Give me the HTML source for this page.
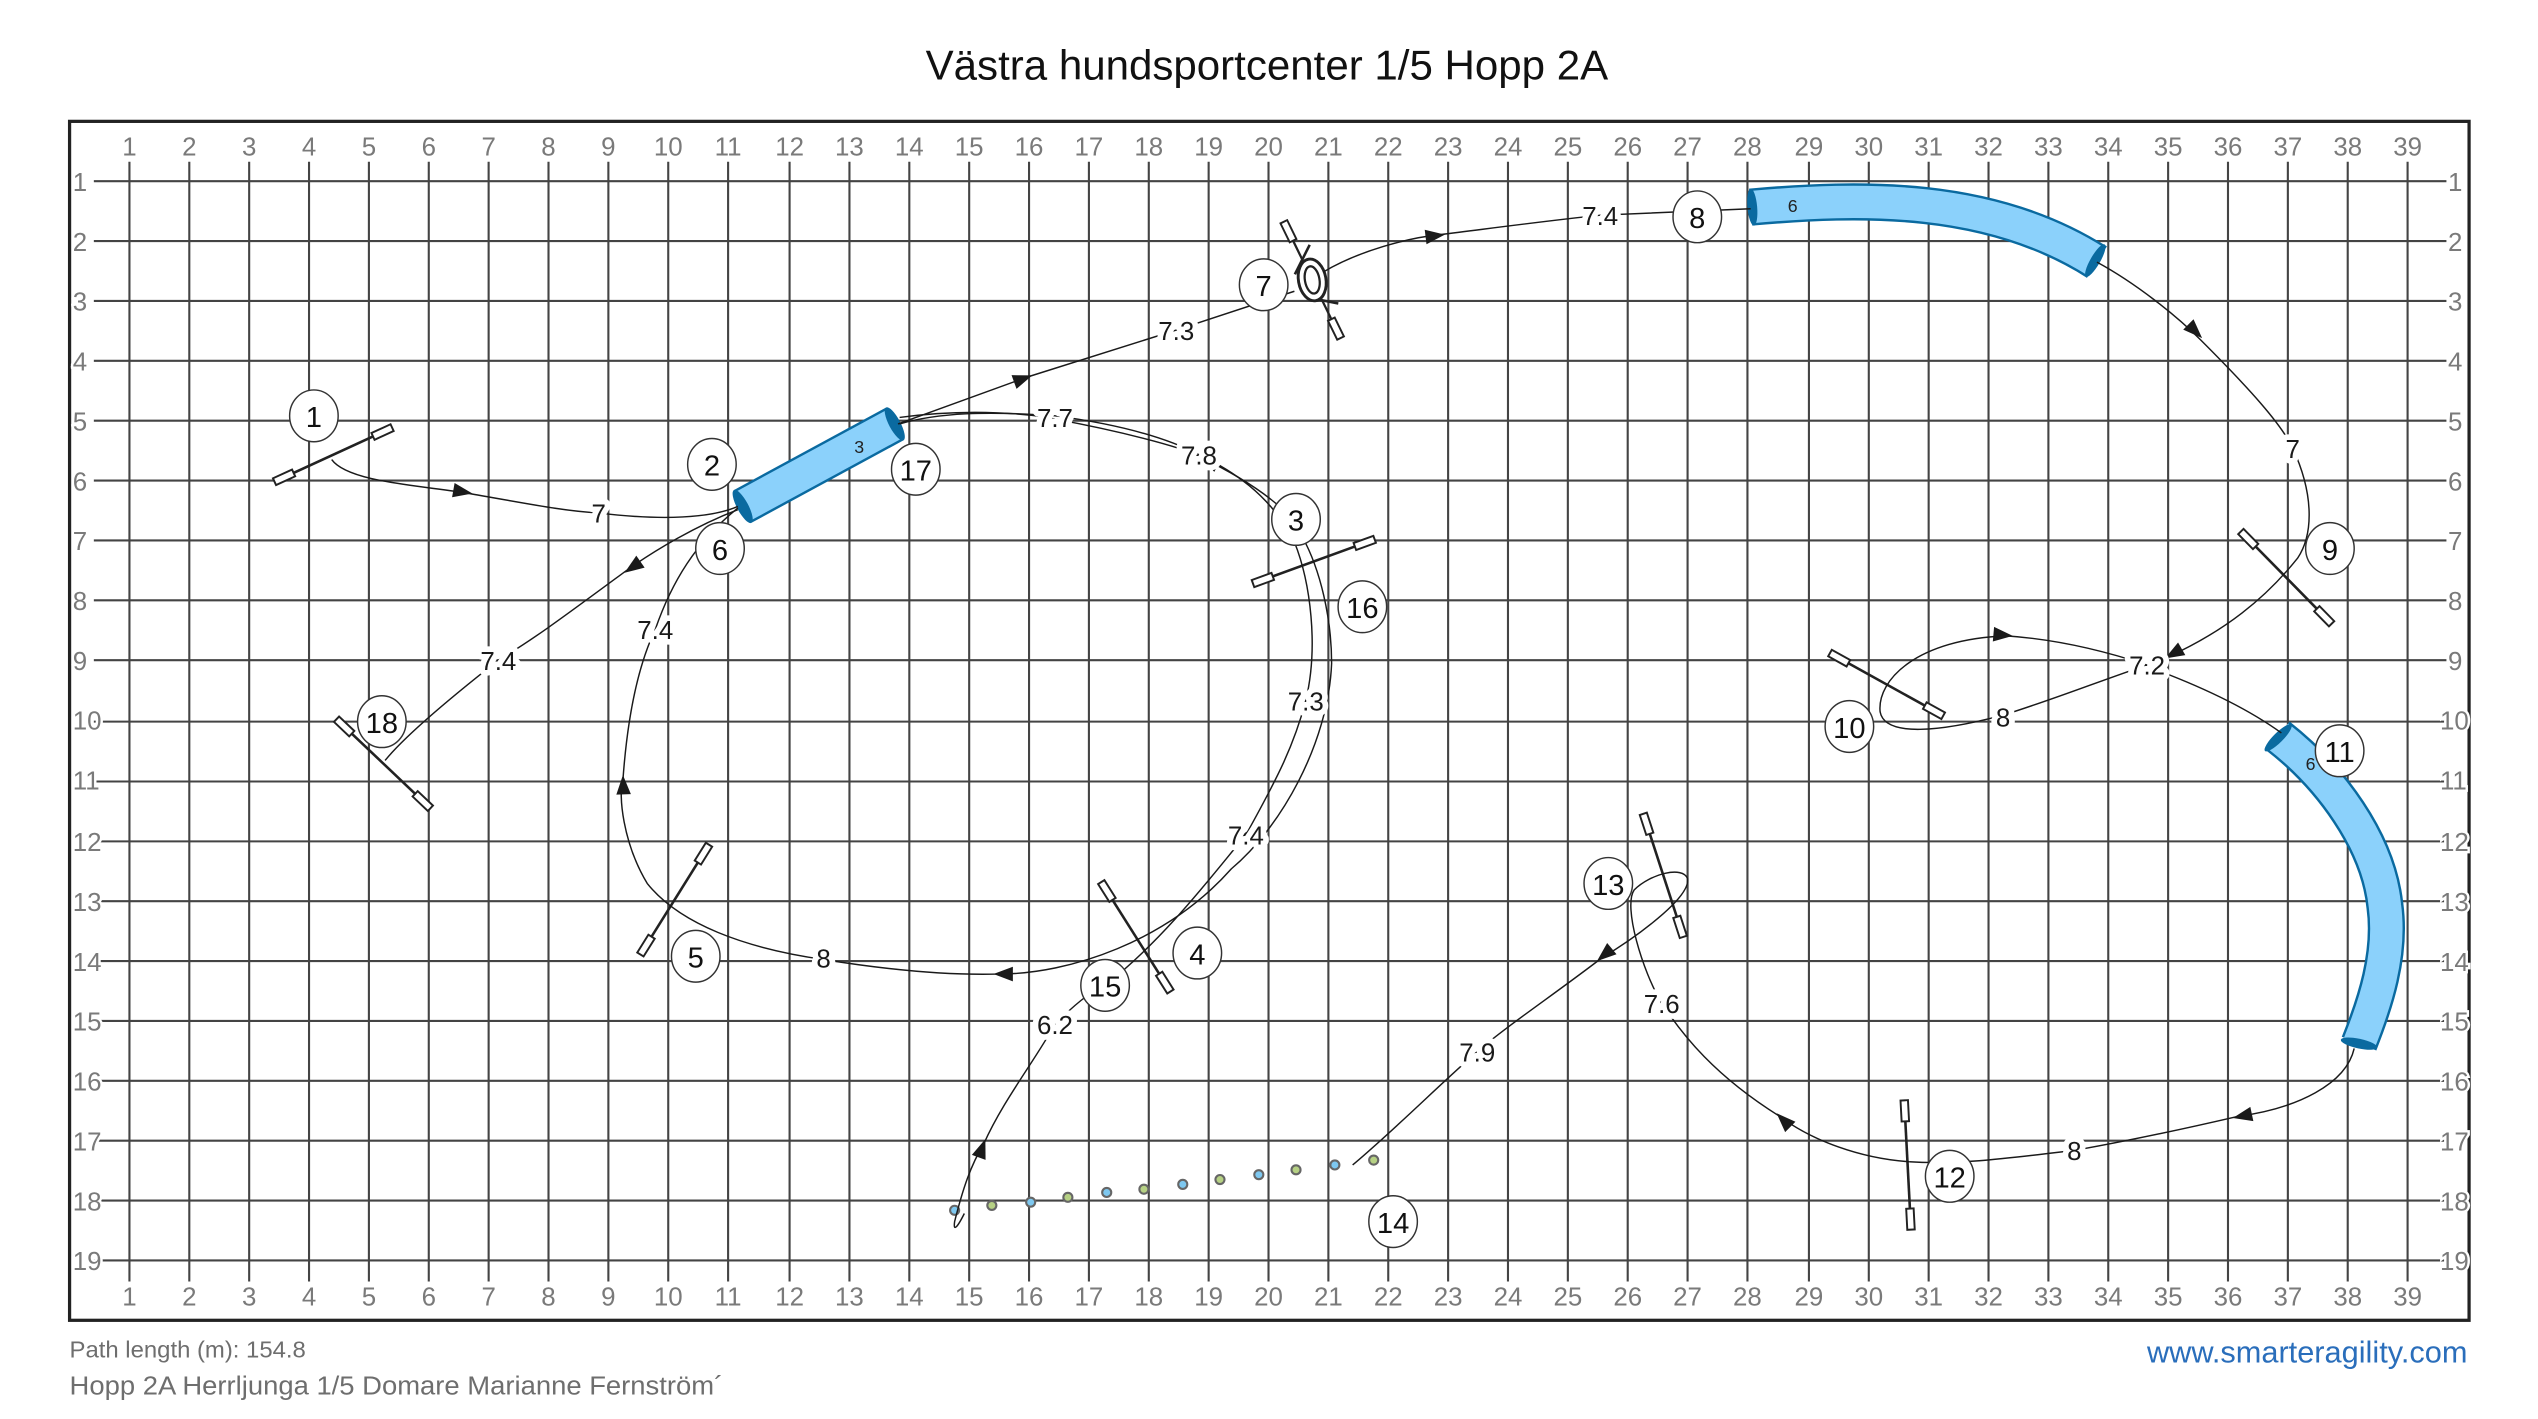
<!DOCTYPE html>
<html><head><meta charset="utf-8"><style>
html,body{margin:0;padding:0;background:#fff;}
svg{display:block;}
text{font-family:"Liberation Sans",sans-serif;}
</style></head><body>
<svg width="2538" height="1419" viewBox="0 0 1568.6 877" xmlns="http://www.w3.org/2000/svg">
<defs>
<g id="jmp"><line x1="-40" y1="0" x2="40" y2="0" stroke="#222" stroke-width="1.6"/>
<rect x="-40" y="-2.3" width="13" height="4.6" fill="#fff" stroke="#222" stroke-width="1.2"/>
<rect x="27" y="-2.3" width="13" height="4.6" fill="#fff" stroke="#222" stroke-width="1.2"/></g>
<polygon id="ar" points="0,0 -12,-4.5 -12,4.5" fill="#1a1a1a"/>
</defs>
<rect width="1568.6" height="877" fill="#fff"/>
<text x="783" y="49" font-size="26" text-anchor="middle" fill="#111">Västra hundsportcenter 1/5 Hopp 2A</text>
<!-- grid -->
<g stroke="#444" stroke-width="1.3">
<path d="M80,100V792M117,100V792M154,100V792M191,100V792M228,100V792M265,100V792M302,100V792M339,100V792M376,100V792M413,100V792M450,100V792M488,100V792M525,100V792M562,100V792M599,100V792M636,100V792M673,100V792M710,100V792M747,100V792M784,100V792M821,100V792M858,100V792M895,100V792M932,100V792M969,100V792M1006,100V792M1043,100V792M1080,100V792M1118,100V792M1155,100V792M1192,100V792M1229,100V792M1266,100V792M1303,100V792M1340,100V792M1377,100V792M1414,100V792M1451,100V792M1488,100V792"/>
<path d="M58,112H1512M58,149H1512M58,186H1512M58,223H1512M58,260H1512M58,297H1512M58,334H1512M58,371H1512M58,408H1512M58,446H1512M58,483H1512M58,520H1512M58,557H1512M58,594H1512M58,631H1512M58,668H1512M58,705H1512M58,742H1512M58,779H1512"/>
</g>
<rect x="43" y="75" width="1483" height="741" fill="none" stroke="#222" stroke-width="2"/>
<g font-size="16" fill="#7a7a7a" text-anchor="middle">
<text x="80" y="96">1</text><text x="117" y="96">2</text><text x="154" y="96">3</text><text x="191" y="96">4</text><text x="228" y="96">5</text><text x="265" y="96">6</text><text x="302" y="96">7</text><text x="339" y="96">8</text><text x="376" y="96">9</text><text x="413" y="96">10</text><text x="450" y="96">11</text><text x="488" y="96">12</text><text x="525" y="96">13</text><text x="562" y="96">14</text><text x="599" y="96">15</text><text x="636" y="96">16</text><text x="673" y="96">17</text><text x="710" y="96">18</text><text x="747" y="96">19</text><text x="784" y="96">20</text><text x="821" y="96">21</text><text x="858" y="96">22</text><text x="895" y="96">23</text><text x="932" y="96">24</text><text x="969" y="96">25</text><text x="1006" y="96">26</text><text x="1043" y="96">27</text><text x="1080" y="96">28</text><text x="1118" y="96">29</text><text x="1155" y="96">30</text><text x="1192" y="96">31</text><text x="1229" y="96">32</text><text x="1266" y="96">33</text><text x="1303" y="96">34</text><text x="1340" y="96">35</text><text x="1377" y="96">36</text><text x="1414" y="96">37</text><text x="1451" y="96">38</text><text x="1488" y="96">39</text>
<text x="80" y="807">1</text><text x="117" y="807">2</text><text x="154" y="807">3</text><text x="191" y="807">4</text><text x="228" y="807">5</text><text x="265" y="807">6</text><text x="302" y="807">7</text><text x="339" y="807">8</text><text x="376" y="807">9</text><text x="413" y="807">10</text><text x="450" y="807">11</text><text x="488" y="807">12</text><text x="525" y="807">13</text><text x="562" y="807">14</text><text x="599" y="807">15</text><text x="636" y="807">16</text><text x="673" y="807">17</text><text x="710" y="807">18</text><text x="747" y="807">19</text><text x="784" y="807">20</text><text x="821" y="807">21</text><text x="858" y="807">22</text><text x="895" y="807">23</text><text x="932" y="807">24</text><text x="969" y="807">25</text><text x="1006" y="807">26</text><text x="1043" y="807">27</text><text x="1080" y="807">28</text><text x="1118" y="807">29</text><text x="1155" y="807">30</text><text x="1192" y="807">31</text><text x="1229" y="807">32</text><text x="1266" y="807">33</text><text x="1303" y="807">34</text><text x="1340" y="807">35</text><text x="1377" y="807">36</text><text x="1414" y="807">37</text><text x="1451" y="807">38</text><text x="1488" y="807">39</text>
</g>
<g font-size="16" fill="#7a7a7a" text-anchor="start" stroke="#fff" stroke-width="3" paint-order="stroke">
<text x="45" y="118">1</text><text x="45" y="155">2</text><text x="45" y="192">3</text><text x="45" y="229">4</text><text x="45" y="266">5</text><text x="45" y="303">6</text><text x="45" y="340">7</text><text x="45" y="377">8</text><text x="45" y="414">9</text><text x="45" y="451">10</text><text x="45" y="488">11</text><text x="45" y="526">12</text><text x="45" y="563">13</text><text x="45" y="600">14</text><text x="45" y="637">15</text><text x="45" y="674">16</text><text x="45" y="711">17</text><text x="45" y="748">18</text><text x="45" y="785">19</text>
<text x="1513" y="118">1</text><text x="1513" y="155">2</text><text x="1513" y="192">3</text><text x="1513" y="229">4</text><text x="1513" y="266">5</text><text x="1513" y="303">6</text><text x="1513" y="340">7</text><text x="1513" y="377">8</text><text x="1513" y="414">9</text><text x="1508" y="451">10</text><text x="1508" y="488">11</text><text x="1508" y="526">12</text><text x="1508" y="563">13</text><text x="1508" y="600">14</text><text x="1508" y="637">15</text><text x="1508" y="674">16</text><text x="1508" y="711">17</text><text x="1508" y="748">18</text><text x="1508" y="785">19</text>
</g>

<!-- tunnels -->
<g fill="none" stroke-linecap="butt">
<path d="M459,313 L553,262" stroke="#0a6aa0" stroke-width="23"/>
<path d="M459,313 L553,262" stroke="#8bd1fb" stroke-width="20"/>
<path d="M1082,128 C1150,122 1230,120 1296,162" stroke="#0a6aa0" stroke-width="23"/>
<path d="M1082,128 C1150,122 1230,120 1296,162" stroke="#8bd1fb" stroke-width="20"/>
<path d="M1408,455 C1440,480 1470,520 1474,560 C1478,590 1468,620 1458,645" stroke="#0a6aa0" stroke-width="23"/>
<path d="M1408,455 C1440,480 1470,520 1474,560 C1478,590 1468,620 1458,645" stroke="#8bd1fb" stroke-width="20"/>
</g>
<g fill="#0a6aa0">
<ellipse cx="459" cy="313" rx="3.5" ry="11.5" transform="rotate(-28 459 313)"/>
<ellipse cx="553" cy="262" rx="3.5" ry="11.5" transform="rotate(-28 553 262)"/>
<ellipse cx="1083" cy="128" rx="3" ry="11.5" transform="rotate(-5 1083 128)"/>
<ellipse cx="1295" cy="161" rx="3" ry="11.5" transform="rotate(30 1295 161)"/>
<ellipse cx="1408" cy="456" rx="3" ry="11.5" transform="rotate(45 1408 456)"/>
<ellipse cx="1458" cy="645" rx="3" ry="11.5" transform="rotate(-78 1458 645)"/>
</g>
<g font-size="11" fill="#222" text-anchor="middle">
<text x="531" y="280">3</text><text x="1108" y="131">6</text><text x="1428" y="476">6</text>
</g>

<!-- jumps -->
<use href="#jmp" transform="translate(206,281) rotate(-24.7)"/>
<use href="#jmp" transform="translate(237,472) rotate(43.5)"/>
<use href="#jmp" transform="translate(417,556) rotate(-58)"/>
<use href="#jmp" transform="translate(702,579) rotate(57.7)"/>
<use href="#jmp" transform="translate(812,347) rotate(-20)"/>
<use href="#jmp" transform="translate(1413,357) rotate(45.5)"/>
<use href="#jmp" transform="translate(1166,423) rotate(29)"/>
<use href="#jmp" transform="translate(1179,720) rotate(87)"/>
<use href="#jmp" transform="translate(1028,541) rotate(72)"/>
<!-- tire -->
<g transform="translate(811,173) rotate(64)" stroke="#222" fill="none">
<rect x="-40" y="-2.3" width="13" height="4.6" fill="#fff" stroke-width="1.2"/>
<rect x="27" y="-2.3" width="13" height="4.6" fill="#fff" stroke-width="1.2"/>
<line x1="-27" y1="0" x2="-14" y2="0" stroke-width="1.4"/>
<line x1="14" y1="0" x2="27" y2="0" stroke-width="1.4"/>
<line x1="-16" y1="-10" x2="-12" y2="10" stroke-width="1.6" transform="rotate(-26 -14 0)"/>
<line x1="16" y1="-10" x2="12" y2="10" stroke-width="1.6" transform="rotate(26 14 0)"/>
</g>
<ellipse cx="811" cy="173" rx="8.5" ry="13" transform="rotate(-10 811 173)" fill="#fff" stroke="#222" stroke-width="1.8"/>
<ellipse cx="811" cy="173" rx="4.5" ry="8.5" transform="rotate(-10 811 173)" fill="none" stroke="#222" stroke-width="1.4"/>

<!-- weave -->
<g stroke="#666" stroke-width="1.3">
<circle cx="590" cy="748" r="2.8" fill="#7ec8f0"/><circle cx="613" cy="745" r="2.8" fill="#b6d184"/><circle cx="637" cy="743" r="2.8" fill="#7ec8f0"/><circle cx="660" cy="740" r="2.8" fill="#b6d184"/><circle cx="684" cy="737" r="2.8" fill="#7ec8f0"/><circle cx="707" cy="735" r="2.8" fill="#b6d184"/><circle cx="731" cy="732" r="2.8" fill="#7ec8f0"/><circle cx="754" cy="729" r="2.8" fill="#b6d184"/><circle cx="778" cy="726" r="2.8" fill="#7ec8f0"/><circle cx="801" cy="723" r="2.8" fill="#b6d184"/><circle cx="825" cy="720" r="2.8" fill="#7ec8f0"/><circle cx="849" cy="717" r="2.8" fill="#b6d184"/>
</g>

<!-- path -->
<g fill="none" stroke="#1a1a1a" stroke-width="0.9">
<path d="M205,284 C215,298 260,300 290,305 C330,312 350,316 370,317 C410,322 440,320 456,313"/>
<path d="M556,258 C600,252 640,256 652,259 C690,266 730,276 741,282 C770,296 795,312 805,330"/>
<path d="M805,332 C816,352 823,382 823,410 C821,460 791,512 761,537 C721,582 661,602 617,602 C580,603 540,598 509,593"/>
<path d="M509,593 C460,586 420,571 400,546 C385,521 382,491 385,482 C388,440 395,410 405,389 C415,360 430,335 456,314"/>
<path d="M555,262 L635,233 L727,204 L800,180"/>
<path d="M818,168 C840,155 870,147 890,145 C930,140 960,136 989,133 L1082,129"/>
<path d="M1296,162 C1320,175 1345,195 1360,210 C1390,240 1410,262 1417,277 C1430,305 1430,330 1420,345 C1400,370 1375,390 1340,406"/>
<path d="M1327,411 C1300,420 1270,432 1238,442 C1200,452 1165,456 1162,440 C1160,420 1185,395 1240,393 C1270,395 1300,402 1327,411"/>
<path d="M1330,413 C1365,426 1392,440 1410,453"/>
<path d="M1455,648 C1450,670 1420,685 1383,690 C1340,700 1310,706 1282,711 C1240,716 1210,720 1180,718"/>
<path d="M1180,718 C1150,716 1120,705 1100,690 C1060,665 1040,640 1027,620 C1015,600 1003,560 1010,550 C1020,540 1040,535 1043,543 C1045,555 1010,580 990,592"/>
<path d="M990,592 C960,615 930,635 913,650 C890,670 860,700 836,720"/>
<path d="M596,750 C592,758 589,762 590,755 C595,735 600,720 608,707 C620,680 640,655 652,633 C665,620 675,612 683,609"/>
<path d="M683,609 C720,580 750,540 770,516 C790,480 800,460 807,433 C815,400 810,360 800,335 C785,305 760,290 741,281 C720,270 690,262 652,257 C610,254 580,255 556,262"/>
<path d="M456,315 C430,325 405,340 388,352 C350,380 330,395 308,408 C280,430 250,455 238,470"/>
</g>
<g>
<use href="#ar" transform="translate(292,305) rotate(10)"/>
<use href="#ar" transform="translate(638,232) rotate(-20)"/>
<use href="#ar" transform="translate(893,145) rotate(-7)"/>
<use href="#ar" transform="translate(1361,209) rotate(45)"/>
<use href="#ar" transform="translate(1338,407) rotate(150)"/>
<use href="#ar" transform="translate(1244,393) rotate(5)"/>
<use href="#ar" transform="translate(1380,691) rotate(168)"/>
<use href="#ar" transform="translate(1098,688) rotate(-135)"/>
<use href="#ar" transform="translate(987,594) rotate(140)"/>
<use href="#ar" transform="translate(609,704) rotate(-70)"/>
<use href="#ar" transform="translate(772,513) rotate(-55)"/>
<use href="#ar" transform="translate(742,282) rotate(-152)"/>
<use href="#ar" transform="translate(614,602) rotate(180)"/>
<use href="#ar" transform="translate(385,479) rotate(-92)"/>
<use href="#ar" transform="translate(386,354) rotate(145)"/>
</g>
<!-- distance labels -->
<g font-size="16" fill="#1a1a1a" text-anchor="middle" stroke="#fff" stroke-width="7" stroke-linejoin="round" paint-order="stroke">
<text x="370" y="323">7</text>
<text x="308" y="414">7.4</text>
<text x="405" y="395">7.4</text>
<text x="652" y="264">7.7</text>
<text x="741" y="287">7.8</text>
<text x="727" y="210">7.3</text>
<text x="989" y="139">7.4</text>
<text x="1417" y="283">7</text>
<text x="1327" y="417">7.2</text>
<text x="1238" y="449">8</text>
<text x="1282" y="717">8</text>
<text x="1027" y="626">7.6</text>
<text x="913" y="656">7.9</text>
<text x="807" y="439">7.3</text>
<text x="770" y="522">7.4</text>
<text x="509" y="598">8</text>
<text x="652" y="639">6.2</text>
</g>
<!-- number circles -->
<g fill="#fff" stroke="#333" stroke-width="0.9">
<ellipse cx="194" cy="257" rx="15" ry="16"/><ellipse cx="440" cy="287" rx="15" ry="16"/><ellipse cx="801" cy="321" rx="15" ry="16"/><ellipse cx="740" cy="589" rx="15" ry="16"/><ellipse cx="430" cy="591" rx="15" ry="16"/><ellipse cx="445" cy="339" rx="15" ry="16"/><ellipse cx="781" cy="176" rx="15" ry="16"/><ellipse cx="1049" cy="134" rx="15" ry="16"/><ellipse cx="1440" cy="339" rx="15" ry="16"/><ellipse cx="1143" cy="449" rx="15" ry="16"/><ellipse cx="1446" cy="464" rx="15" ry="16"/><ellipse cx="1205" cy="727" rx="15" ry="16"/><ellipse cx="994" cy="546" rx="15" ry="16"/><ellipse cx="861" cy="755" rx="15" ry="16"/><ellipse cx="683" cy="609" rx="15" ry="16"/><ellipse cx="842" cy="375" rx="15" ry="16"/><ellipse cx="566" cy="290" rx="15" ry="16"/><ellipse cx="236" cy="446" rx="15" ry="16"/>
</g>
<g font-size="18" fill="#111" text-anchor="middle">
<text x="194" y="264">1</text><text x="440" y="294">2</text><text x="801" y="328">3</text><text x="740" y="596">4</text><text x="430" y="598">5</text><text x="445" y="346">6</text><text x="781" y="183">7</text><text x="1049" y="141">8</text><text x="1440" y="346">9</text><text x="1143" y="456">10</text><text x="1446" y="471">11</text><text x="1205" y="734">12</text><text x="994" y="553">13</text><text x="861" y="762">14</text><text x="683" y="616">15</text><text x="842" y="382">16</text><text x="566" y="297">17</text><text x="236" y="453">18</text>
</g>
<!-- footer -->
<text x="43" y="839" font-size="14" fill="#6e6e6e" textLength="146" lengthAdjust="spacingAndGlyphs">Path length (m): 154.8</text>
<text x="43" y="862" font-size="16" fill="#6e6e6e" textLength="404" lengthAdjust="spacingAndGlyphs">Hopp 2A Herrljunga  1/5  Domare Marianne Fernström´</text>
<text x="1525" y="842" font-size="19" fill="#2a6ebb" text-anchor="end">www.smarteragility.com</text>
</svg>
</body></html>
